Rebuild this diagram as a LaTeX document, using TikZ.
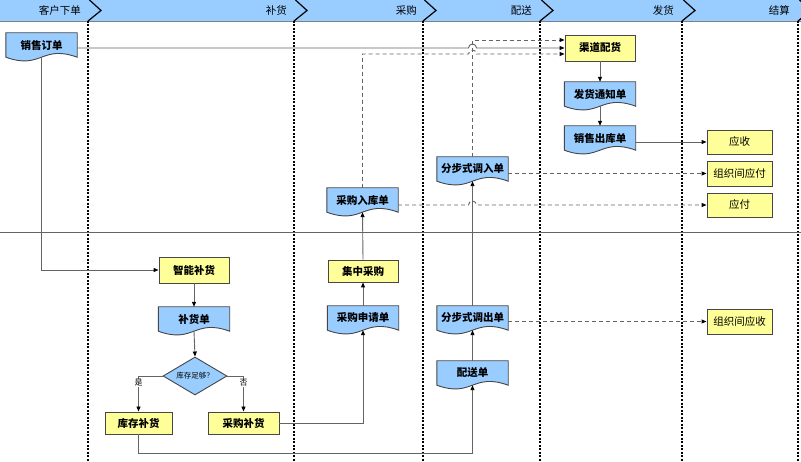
\documentclass[tikz,border=0pt]{standalone}
\usepackage{fontspec}
\setmainfont{Noto Sans CJK SC}
\usetikzlibrary{arrows.meta,calc,shapes.geometric,backgrounds}
\definecolor{hdr}{RGB}{153,204,255}
\definecolor{docblue}{RGB}{153,204,255}
\definecolor{boxyel}{RGB}{255,255,153}
\definecolor{edge}{RGB}{70,70,70}
\definecolor{conn}{RGB}{100,100,100}
\tikzset{
  every node/.style={font=\fontsize{10.5}{12}\selectfont},
  ybox/.style={draw=edge, fill=boxyel, line width=0.9pt, minimum width=70pt, minimum height=24pt, inner sep=0pt},
  ybold/.style={ybox, font=\fontsize{10.5}{12}\selectfont\bfseries},
  docnode/.style={minimum width=71pt, minimum height=24pt, inner sep=0pt, font=\fontsize{10.5}{12}\selectfont\bfseries},
  docshape/.style={draw=edge, fill=docblue, line width=0.9pt},
  conline/.style={draw=conn, line width=0.9pt, -{Triangle[length=5pt,width=4pt,color=black]}},
  dashline/.style={conline, dash pattern=on 4pt off 3pt},
  lanesep/.style={draw=black, line width=1.6pt, dash pattern=on 2pt off 1.5pt},
  chev/.style={draw=black, line width=1.2pt},
  hdrlabel/.style={anchor=east, inner sep=0pt},
  decision/.style={shape=diamond, draw=edge, fill=docblue, line width=0.9pt, minimum width=64pt, minimum height=38pt, inner sep=0pt, aspect=1.68, font=\fontsize{7.5}{9}\selectfont},
  yn/.style={fill=white, inner sep=0.5pt, font=\fontsize{8}{9}\selectfont},
}
\newcommand\mkdoc[3]{%
  \node[docnode] (#1) at (#2) {#3};
  \begin{scope}[on background layer]
    \path[docshape] (#1.south west) -- (#1.north west) -- (#1.north east) -- (#1.south east)
      .. controls ($(#1.south)+(0,-13)$) and ($(#1.south)+(0,13)$) .. (#1.south west) -- cycle;
  \end{scope}}
\begin{document}
\begin{tikzpicture}[x=1pt,y=-1pt]
\useasboundingbox (0,0) rectangle (801,462);
\clip (0,0) rectangle (801,462);
\begin{scope}[on background layer]
  \fill[hdr] (0,0) rectangle (801,21);
  \draw[gray, line width=0.8pt] (0,21) -- (801,21);
  \foreach \b in {88,294,423,540,682,798} {
    \draw[lanesep] (\b,21) -- (\b,462);
    \draw[chev] (\b+1.5,0) -- (\b+13,10.5) -- (\b,21);
  }
  \draw[conn, line width=0.9pt] (0,232) -- (801,232);
\end{scope}
\node[hdrlabel] (h1) at (81,10.5) {客户下单};
\node[hdrlabel] (h2) at (287,10.5) {补货};
\node[hdrlabel] (h3) at (417,10.5) {采购};
\node[hdrlabel] (h4) at (532,10.5) {配送};
\node[hdrlabel] (h5) at (674,10.5) {发货};
\node[hdrlabel] (h6) at (790,10.5) {结算};

% documents
\mkdoc{so}{41.5,45}{销售订单}
\mkdoc{fh}{600,94}{发货通知单}
\mkdoc{xs}{600,138}{销售出库单}
\mkdoc{dr}{472.5,169}{分步式调入单}
\mkdoc{cr}{362.5,200}{采购入库单}
\mkdoc{bh}{194,319}{补货单}
\mkdoc{sq}{363,318}{采购申请单}
\mkdoc{dc}{472.5,318}{分步式调出单}
\mkdoc{ps}{472.5,373}{配送单}

% boxes
\node[ybold, minimum height=26pt] (qd) at (600,48) {渠道配货};
\node[ybox, minimum width=65pt] (ys) at (739.5,142) {应收};
\node[ybox, minimum width=65pt, minimum height=25pt] (zf) at (739.5,173.5) {组织间应付};
\node[ybox, minimum width=65pt] (yf) at (739.5,205) {应付};
\node[ybox, minimum width=65pt, minimum height=25pt] (zs) at (739.5,321.5) {组织间应收};
\node[ybold, minimum height=26pt] (zn) at (194,270) {智能补货};
\node[ybold, minimum height=22pt] (jz) at (363,271) {集中采购};
\node[ybold, minimum width=67pt, minimum height=22pt] (kc) at (138.5,423) {库存补货};
\node[ybold, minimum width=71pt, minimum height=22pt] (cb) at (243.5,423) {采购补货};
\node[decision] (dm) at (195,376) {库存足够？};

% helper coordinates
\coordinate (q1) at ($(qd.west)+(0,-8)$);
\coordinate (q2) at ($(qd.west)+(0,6)$);

% connectors
\draw[conline] (so.east |- qd.west) -- ($(dr.north |- qd.west)+(-4,0)$) arc[start angle=180,end angle=360,radius=4] -- (qd.west);
\draw[dashline] (dr.north) |- (q1);
\draw[dashline] (cr.north) |- ($(dr.north |- q2)+(-4,0)$) arc[start angle=180,end angle=360,radius=4] -- (q2);
\draw[conline] (qd.south) -- (fh.north);
\draw[conline] (fh.south) -- (xs.north);
\draw[conline] (xs.east |- ys.west) -- (ys.west);
\draw[dashline] (dr.east |- zf.west) -- (zf.west);
\draw[dashline] (cr.east |- yf.west) -- ($(dr.south |- yf.west)+(-4,0)$) arc[start angle=180,end angle=360,radius=4] -- (yf.west);
\draw[conline] (dc.north) -- (dr.south);
\draw[conline] (jz.north) -- (cr.south);
\draw[conline] (so.south) |- (zn.west);
\draw[conline] (zn.south) -- (bh.north);
\draw[conline] (bh.south) -- (dm.north);
\draw[conline] (dm.west) -| node[yn, pos=0.6] {是} (kc.north);
\draw[conline] (dm.east) -| node[yn, pos=0.6] {否} (cb.north);
\draw[conline] (cb.east) -| (sq.south);
\draw[conline] (kc.south) -- ($(kc.south)+(0,19)$) -| (ps.south);
\draw[conline] (ps.north) -- (dc.south);
\draw[conline] (sq.north) -- (jz.south);
\draw[dashline] (dc.east |- zs.west) -- (zs.west);
\end{tikzpicture}
\end{document}
